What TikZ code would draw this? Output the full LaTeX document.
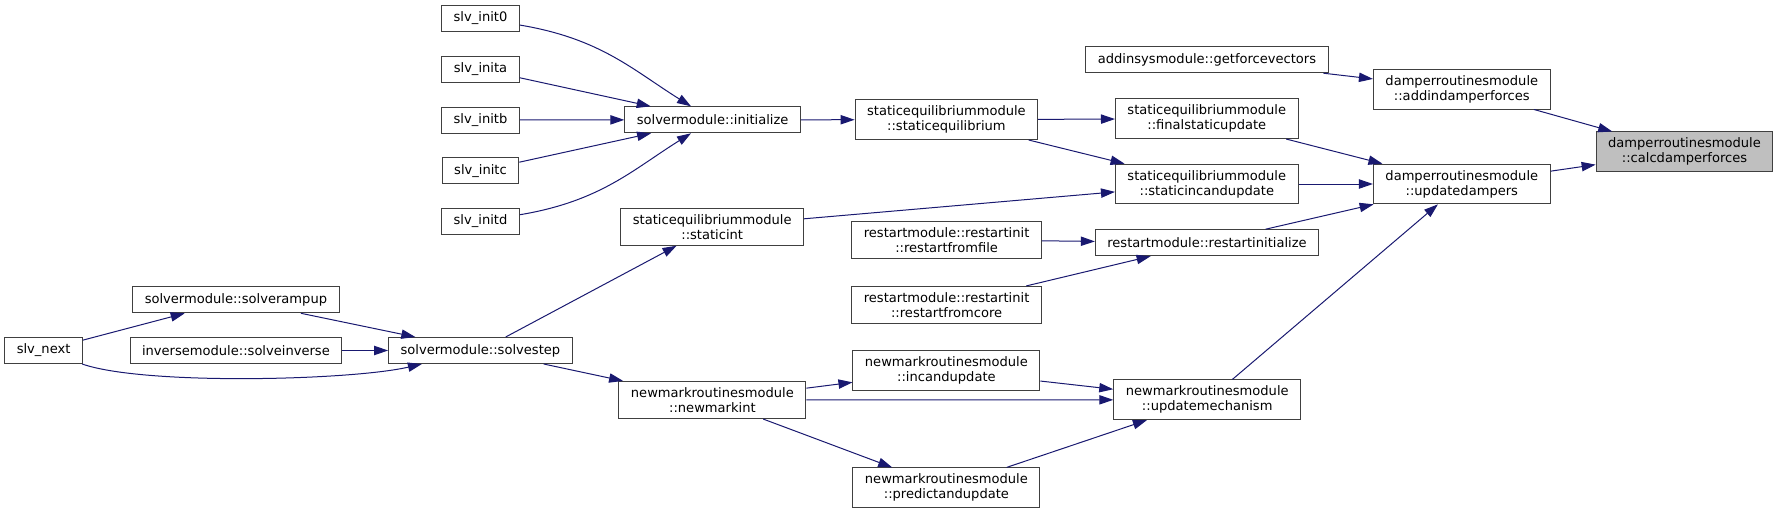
\documentclass[tikz,border=0pt]{standalone}
\usepackage{fontspec}
\setmainfont{DejaVu Sans}
\usepackage{xcolor}
\definecolor{dxnavy}{RGB}{25,25,112}
\definecolor{dxgray}{RGB}{64,64,64}
\definecolor{dxfill}{RGB}{191,191,191}
\usepackage{tikz}
\usetikzlibrary{arrows.meta}

\begin{document}
\begin{tikzpicture}[
    x=0.75pt, y=-0.75pt,
    every node/.style={font=\fontsize{9.8}{11.25}\selectfont},
    fn/.style={
        rectangle, draw=dxgray, line width=0.75pt, fill=white,
        align=center, inner xsep=9pt, inner ysep=4.5pt,
        minimum height=19.5pt
    },
    root/.style={fn, fill=dxfill},
    call/.style={draw=dxnavy, line width=0.75pt,
                 -{Triangle[length=10.5pt, width=7pt]}},
]

\useasboundingbox (0,0) rectangle (1777,514);

% ---- Column 1: entry points ----
\node[fn] (next)    at (43.6,350.5)  {slv\_next};

% ---- Column 2 ----
\node[fn] (rampup)  at (235.9,299.8) {solvermodule::solverampup};
\node[fn] (inverse) at (235.9,350.5) {inversemodule::solveinverse};

% ---- Column 3: slv_init* and solvestep ----
\node[fn] (init0)     at (480.5,18.5)  {slv\_init0};
\node[fn] (inita)     at (480.5,69.2)  {slv\_inita};
\node[fn] (initb)     at (480.5,120)   {slv\_initb};
\node[fn] (initc)     at (480.5,170.7) {slv\_initc};
\node[fn] (initd)     at (480.5,221.3) {slv\_initd};
\node[fn] (solvestep) at (480.4,350.5) {solvermodule::solvestep};

% ---- Column 4 ----
\node[fn] (initialize) at (712.6,119.8) {solvermodule::initialize};
\node[fn] (staticint)  at (712.2,226.7) {staticequilibriummodule\\::staticint};
\node[fn] (newmarkint) at (712.4,400)   {newmarkroutinesmodule\\::newmarkint};

% ---- Column 5 ----
\node[fn] (staticeq) at (946.4,119.7) {staticequilibriummodule\\::staticequilibrium};
\node[fn] (rstfile)  at (946.6,239.7) {restartmodule::restartinit\\::restartfromfile};
\node[fn] (rstcore)  at (946.6,305)   {restartmodule::restartinit\\::restartfromcore};
\node[fn] (incupd)   at (946.4,370.5) {newmarkroutinesmodule\\::incandupdate};
\node[fn] (predupd)  at (946.4,487.7) {newmarkroutinesmodule\\::predictandupdate};

% ---- Column 6 ----
\node[fn] (getforce)    at (1207,59.7)    {addinsysmodule::getforcevectors};
\node[fn] (finalstatic) at (1206.8,118.7) {staticequilibriummodule\\::finalstaticupdate};
\node[fn] (staticinc)   at (1206.8,184)   {staticequilibriummodule\\::staticincandupdate};
\node[fn] (rstinit)     at (1207,242.7)   {restartmodule::restartinitialize};
\node[fn] (updmech)     at (1207.2,399.8) {newmarkroutinesmodule\\::updatemechanism};

% ---- Column 7 ----
\node[fn] (adddamp) at (1461.8,89.2) {damperroutinesmodule\\::addindamperforces};
\node[fn] (upddamp) at (1461.8,184)  {damperroutinesmodule\\::updatedampers};

% ---- Root (grey) ----
\node[root] (calcdamp) at (1684.5,151.8) {damperroutinesmodule\\::calcdamperforces};

% ---- Calls into solvestep ----
\draw[call] (next) -- (rampup);
\draw[call] (next) .. controls +(100,35) and +(-130,30) .. (solvestep);
\draw[call] (rampup) -- (solvestep);
\draw[call] (inverse) -- (solvestep);

% ---- Calls into initialize ----
\draw[call] (init0) .. controls +(120,20) and +(-80,-50) .. (initialize);
\draw[call] (inita) -- (initialize);
\draw[call] (initb) -- (initialize);
\draw[call] (initc) -- (initialize);
\draw[call] (initd) .. controls +(120,-20) and +(-80,50) .. (initialize);

% ---- Middle calls ----
\draw[call] (solvestep) -- (staticint);
\draw[call] (solvestep) -- (newmarkint);
\draw[call] (initialize) -- (staticeq);
\draw[call] (staticeq) -- (finalstatic);
\draw[call] (staticeq) -- (staticinc);
\draw[call] (staticint) -- (staticinc);
\draw[call] (rstfile) -- (rstinit);
\draw[call] (rstcore) -- (rstinit);
\draw[call] (newmarkint) -- (incupd);
\draw[call] (newmarkint) -- (updmech);
\draw[call] (newmarkint) -- (predupd);
\draw[call] (incupd) -- (updmech);
\draw[call] (predupd) -- (updmech);

% ---- Calls into the damper routines ----
\draw[call] (getforce) -- (adddamp);
\draw[call] (finalstatic) -- (upddamp);
\draw[call] (staticinc) -- (upddamp);
\draw[call] (rstinit) -- (upddamp);
\draw[call] (updmech.39) -- (upddamp);
\draw[call] (adddamp) -- (calcdamp);
\draw[call] (upddamp) -- (calcdamp);

\end{tikzpicture}
\end{document}
